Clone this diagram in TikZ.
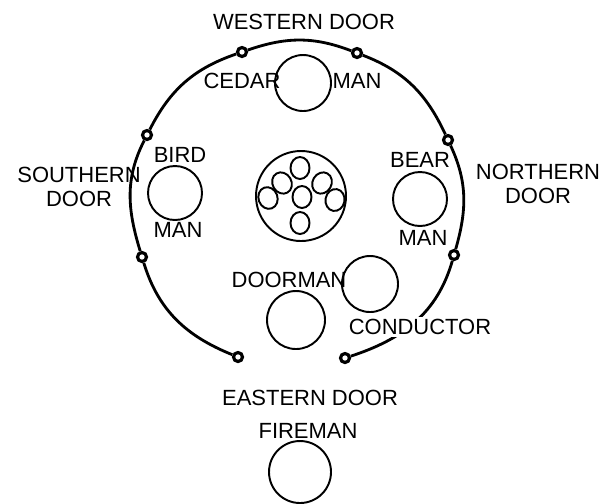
\documentclass[tikz,border=0pt]{standalone}
\usepackage{fontspec}
\setmainfont{Liberation Sans}
\usetikzlibrary{shapes.geometric}
\tikzset{
    seat/.style={draw,circle,line width=1.1pt,inner sep=0pt,minimum size=1.12cm},
    door/.style={draw,circle,line width=1.8pt,fill=white,inner sep=0pt,minimum size=0.18cm},
    stone/.style={draw,ellipse,line width=1.1pt,inner sep=0pt,minimum width=0.38cm,minimum height=0.44cm},
    wall/.style={line width=1.6pt},
    lbl/.style={font=\fontsize{12.5}{13.6}\selectfont,inner sep=1pt,align=center}
}
\begin{document}
\begin{tikzpicture}
\useasboundingbox (0,0) rectangle (12.28,-10.06);

% door posts on the lodge wall
\node[door] (e1) at (4.76,-7.14) {};
\node[door] (s2) at (2.84,-5.14) {};
\node[door] (s1) at (2.94,-2.70) {};
\node[door] (w1) at (4.84,-1.04) {};
\node[door] (w2) at (7.14,-1.06) {};
\node[door] (n1) at (8.96,-2.80) {};
\node[door] (n2) at (9.08,-5.10) {};
\node[door] (e2) at (6.90,-7.16) {};

\draw[wall] (e1) to[out=158,in=-73] (s2) to[out=107,in=-117] (s1)
    to[out=63,in=-161] (w1) to[out=19,in=159] (w2)
    to[out=-21,in=115] (n1) to[out=-65,in=74] (n2)
    to[out=-106,in=18] (e2);

% seats
\node[seat] (cedar) at (6.06,-1.66) {};
\node[seat,minimum size=1.08cm] (bird) at (3.50,-3.86) {};
\node[seat,minimum size=1.08cm] (bear) at (8.40,-3.98) {};
\node[seat,minimum size=1.16cm] (doorman) at (5.92,-6.40) {};
\node[seat] (conductor) at (7.40,-5.68) {};
\node[seat,minimum size=1.24cm] (fireman) at (6.00,-9.44) {};

% centre with the seven stones
\node[seat,minimum size=1.8cm] (centre) at (6.02,-3.92) {};
\node[stone] (o1) at (6.00,-3.36) {};
\node[stone,rotate=30] (o2) at (5.64,-3.66) {};
\node[stone,rotate=20] (o3) at (5.36,-3.96) {};
\node[stone] (o4) at (6.04,-3.94) {};
\node[stone,rotate=-30] (o5) at (6.44,-3.66) {};
\node[stone,rotate=-10] (o6) at (6.70,-4.00) {};
\node[stone] (o7) at (6.00,-4.46) {};

% names
\node[lbl] (wdoor) at (6.08,-0.44) {WESTERN DOOR};
\node[lbl] (sdoor) at (1.58,-3.74) {SOUTHERN\\DOOR};
\node[lbl] (ndoor) at (10.76,-3.68) {NORTHERN\\DOOR};
\node[lbl] (edoor) at (6.20,-7.96) {EASTERN DOOR};
\node[lbl] (cedarl) at (4.84,-1.62) {CEDAR};
\node[lbl] (cedarm) at (7.14,-1.62) {MAN};
\node[lbl] (birdl) at (3.60,-3.10) {BIRD};
\node[lbl] (birdm) at (3.56,-4.60) {MAN};
\node[lbl] (bearl) at (8.40,-3.20) {BEAR};
\node[lbl] (bearm) at (8.46,-4.76) {MAN};
\node[lbl] (doormanl) at (5.78,-5.60) {DOORMAN};
\node[lbl,fill=white] (conductorl) at (8.40,-6.54) {CONDUCTOR};
\node[lbl] (firemanl) at (6.16,-8.62) {FIREMAN};
\end{tikzpicture}
\end{document}
